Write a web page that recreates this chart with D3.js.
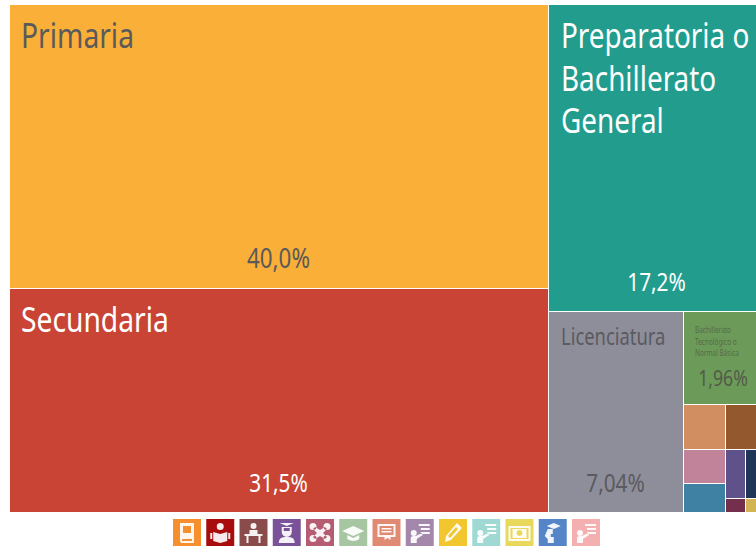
<!DOCTYPE html>
<html><head><meta charset="utf-8">
<script src="https://cdn.jsdelivr.net/npm/d3@7"></script>
<style>html,body{margin:0;background:#fff}svg{display:block}text{font-family:"Noto Sans",sans-serif}</style>
</head><body><div id="c"></div>
<script>
const W=756,H=546;
// shown shares and the tile areas
const names=["Primaria","Secundaria","Preparatoria o Bachillerato General","Licenciatura","Bachillerato Tecnológico o Normal Básica","a","b","c","d","e","f","g","h"];
const areas=[40.46,31.79,16.80,7.14,1.75,0.49,0.36,0.38,0.31,0.255,0.128,0.068,0.034];
const shares=["40,0%","31,5%","17,2%","7,04%","1,96%"];
const fills=["#FAAF39","#C94435","#229C8D","#8E8E9A","#6C9A58","#D18E60","#94582F","#C08399","#3F81A3","#5F5189","#1F3658","#732F4B","#D2B552"];
const iconColors=["#F78F2E","#A80C0C","#8A4B4B","#7A5299","#B55C72","#A6C6A2","#E08A73","#A488AB","#F2C62F","#A0D9D3","#E8D95C","#5585C6","#F4AFB1"];
const iconKinds=["book","reader","desk","grad","net","cap","cert","teach","pencil","teach","bill","head","teach"];

const nest=[[0,1],[2,[3,[4,[5,6],[[7,8],[[9,10],[11,12]]]]]]];
const toNode=n=>Array.isArray(n)?{children:n.map(toNode)}:{i:n,value:areas[n]};
const root=d3.hierarchy(toNode(nest)).sum(d=>d.value||0);
d3.treemap().tile(d3.treemapSliceDice).size([746,507]).round(true)(root);

const svg=d3.select("#c").append("svg").attr("width",W).attr("height",H);
const g=svg.append("g").attr("transform","translate(10,5)");
g.selectAll("rect").data(root.leaves()).join("rect")
 .attr("x",d=>d.x0).attr("y",d=>d.y0)
 .attr("width",d=>d.x1-d.x0-(d.x1<746?1:0)).attr("height",d=>d.y1-d.y0-(d.y1<507?1:0))
 .attr("fill",d=>fills[d.data.i]);
const leaf=i=>root.leaves().find(d=>d.data.i===i);

// labels
function label(i,lines,size,lh,dy,col,dx,sx){
  const d=leaf(i);
  lines.forEach((t,k)=>{
    g.append("text")
     .attr("transform",`translate(${d.x0+dx},${d.y0+dy+k*lh}) scale(${sx},1)`)
     .attr("font-size",size).attr("fill",col).text(t);
  });
}
function pct(i,size,cy,col,dx){
  const d=leaf(i);
  g.append("text").attr("text-anchor","middle")
   .attr("transform",`translate(${(d.x0+d.x1)/2+dx},${d.y1-cy}) scale(0.8,1)`)
   .attr("font-size",size).attr("fill",col).text(shares[i]);
}
label(0,["Primaria"],34,0,43,"#5a5a5a",11,0.83);
label(1,["Secundaria"],34,0,43,"#ffffff",11,0.83);
label(2,["Preparatoria o","Bachillerato","General"],34,42.5,43,"#ffffff",12,0.82);
label(3,["Licenciatura"],23,0,33,"#5a5a5f",12,0.8);
label(4,["Bachillerato","Tecnológico o","Normal Básica"],9,11.5,21,"#566b4a",11,0.72);
pct(0,28,21,"#5a5a5a",-1);
pct(1,26,20,"#ffffff",-1);
pct(2,26,21,"#ffffff",4);
pct(3,26,20,"#5a5a5f",-1);
pct(4,22,19,"#525a4a",3);

// icons
const x=d3.scaleBand().domain(d3.range(iconColors.length)).range([173,173+33.25*(13-0.158)]).paddingInner(0.158);
const iconG=svg.selectAll("g.icon").data(iconKinds).join("g").attr("class","icon")
 .attr("transform",(d,i)=>`translate(${x(i)},519)`);
iconG.append("rect").attr("width",x.bandwidth()).attr("height",27).attr("fill",(d,i)=>iconColors[i]);
const glyph={
 book:"M7 4h14v20H9q-2 0-2-3zM9 20v2h10v-2zM10 7v7h8V7z",
 reader:"M14 4a3.5 3.5 0 1 1 0 7a3.5 3.5 0 1 1 0-7M7 13l7 2l7-2v9l-7 2l-7-2zM4 14h2v6H4zM22 14h2v6h-2z",
 desk:"M14 4a3 3 0 1 1 0 6a3 3 0 1 1 0-6M10 11h8v4h-8zM5 15h18v2H5zM7 17h2v7H7zM19 17h2v7h-2z",
 grad:"M7 4h14l-7 3zM9 8h10v5a5 5 0 0 1-10 0zM11 9v3h6V9zM6 24q0-7 8-6q8-1 8 6z",
 net:"M7 4a3.5 3.5 0 1 1 0 7a3.5 3.5 0 1 1 0-7M21 4a3.5 3.5 0 1 1 0 7a3.5 3.5 0 1 1 0-7M7 16a3.5 3.5 0 1 1 0 7a3.5 3.5 0 1 1 0-7M21 16a3.5 3.5 0 1 1 0 7a3.5 3.5 0 1 1 0-7M9 8l5 3l5-3l2 2l-4 4l4 4l-2 2l-5-3l-5 3l-2-2l4-4l-4-4z",
 cap:"M14 7l11 5l-11 5l-11-5zM8 16l6 3l6-3v4q-6 4-12 0z",
 cert:"M5 5h18v13H18v3l-3-2l-3 2v-3H5zM7 7v9h14V7zM9 9h10v1.500H9zM9 12h10v1.500H9z",
 teach:"M13 5h11v2H13zM15 9h9v2h-9zM15 13h9v2h-9zM8 11a3 3 0 1 1 0 6a3 3 0 1 1 0-6M5 24v-5q0-2 3-2h2l6-3l1 2l-6 4v4z",
 pencil:"M18 4l5 5l-11 12l-6 2l1-6zM17 8l-8 9l2 2l8-9z",
 bill:"M3 7h22v15H3zM5 9v11h18V9zM7 10h14v9H7zM14 11a3 3 0 1 0 0.01 0z",
 head:"M8 7l7-3l7 3l-7 3zM9 10h5v5h-2v3h3v6h-6v-4l-3-3z"
};
iconG.append("path").attr("d",d=>glyph[d]).attr("fill","#fff").attr("fill-opacity",0.92).attr("fill-rule","evenodd");
</script></body></html>
